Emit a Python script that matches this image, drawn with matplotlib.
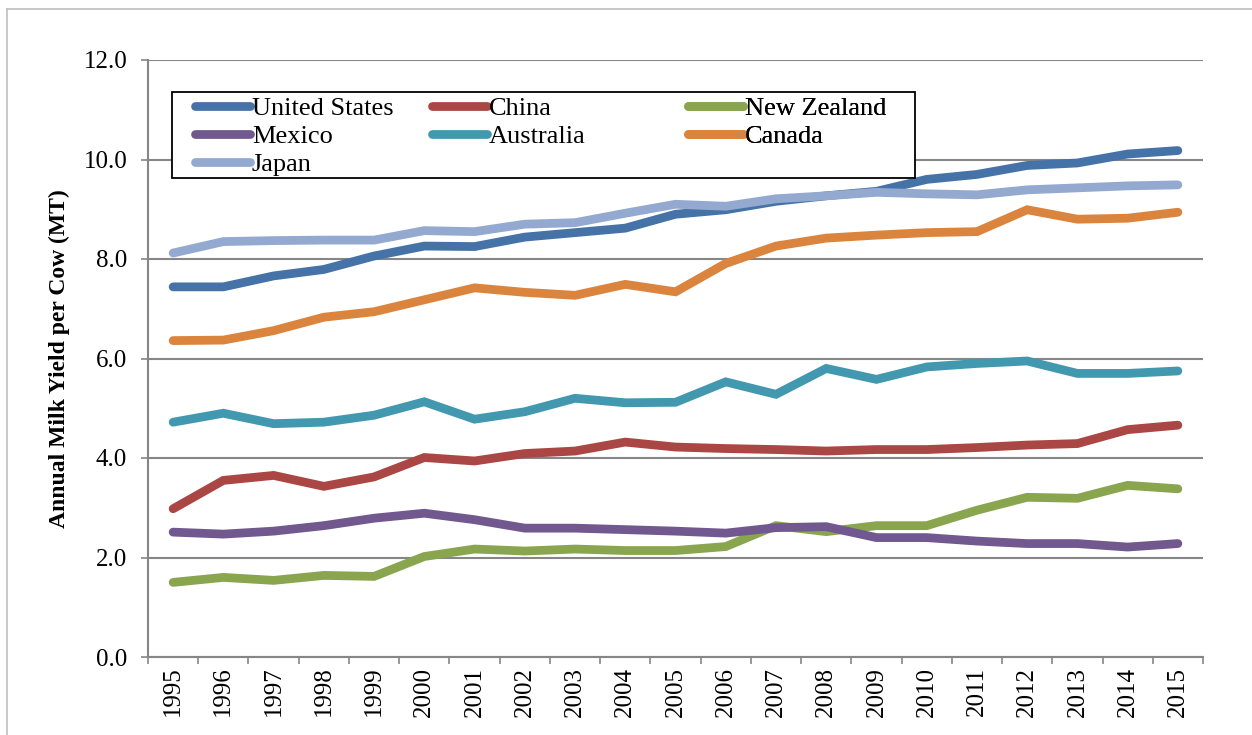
import numpy as np
import matplotlib
matplotlib.use("Agg")
import matplotlib.pyplot as plt
from matplotlib.lines import Line2D
from matplotlib.patches import Rectangle

plt.rcParams['font.family'] = ['Liberation Serif', 'DejaVu Serif']

years = [str(y) for y in range(1995, 2016)]

united_states = [7.44, 7.44, 7.66, 7.79, 8.06, 8.26, 8.25, 8.44, 8.53, 8.62, 8.90,
                 8.99, 9.16, 9.27, 9.36, 9.60, 9.70, 9.88, 9.93, 10.11, 10.18]
china = [2.98, 3.55, 3.65, 3.43, 3.62, 4.01, 3.94, 4.09, 4.14, 4.32, 4.22,
         4.19, 4.17, 4.14, 4.17, 4.17, 4.21, 4.26, 4.29, 4.57, 4.66]
new_zealand = [1.50, 1.60, 1.54, 1.64, 1.62, 2.02, 2.17, 2.13, 2.17, 2.14, 2.14,
               2.22, 2.64, 2.52, 2.64, 2.64, 2.95, 3.21, 3.19, 3.45, 3.38]
mexico = [2.51, 2.47, 2.53, 2.64, 2.79, 2.89, 2.76, 2.59, 2.59, 2.56, 2.53,
          2.49, 2.60, 2.62, 2.40, 2.40, 2.33, 2.28, 2.28, 2.21, 2.28]
australia = [4.72, 4.90, 4.69, 4.72, 4.86, 5.13, 4.78, 4.93, 5.20, 5.11, 5.12,
             5.53, 5.28, 5.80, 5.58, 5.83, 5.90, 5.95, 5.70, 5.70, 5.75]
canada = [6.36, 6.37, 6.56, 6.83, 6.94, 7.18, 7.42, 7.33, 7.27, 7.49, 7.34,
          7.91, 8.26, 8.42, 8.48, 8.53, 8.55, 8.99, 8.80, 8.82, 8.94]
japan = [8.12, 8.35, 8.37, 8.38, 8.38, 8.57, 8.55, 8.70, 8.73, 8.92, 9.10,
         9.06, 9.21, 9.27, 9.34, 9.31, 9.29, 9.39, 9.43, 9.47, 9.49]

series = [
    ("United States", united_states, "#4572A7"),
    ("China", china, "#AA4643"),
    ("New Zealand", new_zealand, "#89A54E"),
    ("Mexico", mexico, "#71588F"),
    ("Australia", australia, "#4198AF"),
    ("Canada", canada, "#DB843D"),
    ("Japan", japan, "#93A9CF"),
]

W, H = 1252, 735
fig = plt.figure(figsize=(W / 100, H / 100), dpi=100)
ax = fig.add_axes([148 / W, 1 - 657 / H, (1203 - 148) / W, (657 - 60) / H])

x = np.arange(len(years))
handles = {}
for name, vals, col in series:
    h, = ax.plot(x, vals, color=col, lw=6.3, solid_capstyle='round',
                 solid_joinstyle='miter', label=name, zorder=3)
    handles[name] = h

ax.set_xlim(-0.5, len(years) - 0.5)
ax.set_ylim(0, 12)
ax.set_yticks(np.arange(0, 12.1, 2))
ax.set_yticklabels([f"{v:.1f}" for v in np.arange(0, 12.1, 2)])
ax.yaxis.grid(True, color='#868686', lw=1.5)
ax.set_axisbelow(True)

ax.set_xticks(x)
ax.set_xticklabels(years, rotation=90)
ax.set_xticks(np.arange(-0.5, len(years), 1), minor=True)
ax.tick_params(axis='x', which='major', length=0, pad=7, labelsize=18)
ax.tick_params(axis='x', which='minor', length=5, width=1.2, color='#868686')
ax.tick_params(axis='y', length=5, width=1.2, color='#868686', pad=10, labelsize=18)

for s in ['top', 'right']:
    ax.spines[s].set_visible(False)
for s in ['left', 'bottom']:
    ax.spines[s].set_color('#868686')
    ax.spines[s].set_linewidth(1.5)

ax.set_ylabel("Annual Milk Yield per Cow (MT)", fontsize=17, fontweight='bold', labelpad=10)

# legend box, three equal columns like Excel
x0, x1 = (172 - 148) / 1055, (915 - 148) / 1055
y_top, y_bot = (657 - 92) / 597, (657 - 178) / 597
ax.add_patch(Rectangle((x0, y_bot), x1 - x0, y_top - y_bot, transform=ax.transAxes,
                       facecolor='white', edgecolor='black', lw=1.3, zorder=5))
cols = [["United States", "Mexico", "Japan"], ["China", "Australia"], ["New Zealand", "Canada"]]
col_x = [(195 - 148) / 1055, (432 - 148) / 1055, (688 - 148) / 1055]
for names, cx in zip(cols, col_x):
    leg = ax.legend([handles[n] for n in names], names, loc='upper left',
                    bbox_to_anchor=(cx, (657 - 97) / 597), frameon=False, fontsize=19,
                    handlelength=2.1, handletextpad=0.05, labelspacing=0.16,
                    borderaxespad=0, borderpad=0)
    leg.set_zorder(6)
    ax.add_artist(leg)

# outer chart border
fig.add_artist(Line2D([7 / W, 1], [1 - 9 / H, 1 - 9 / H], color='#BFBFBF', lw=1.2))
fig.add_artist(Line2D([7 / W, 7 / W], [0, 1 - 9 / H], color='#BFBFBF', lw=1.2))

fig.savefig("out.png", dpi=100)
